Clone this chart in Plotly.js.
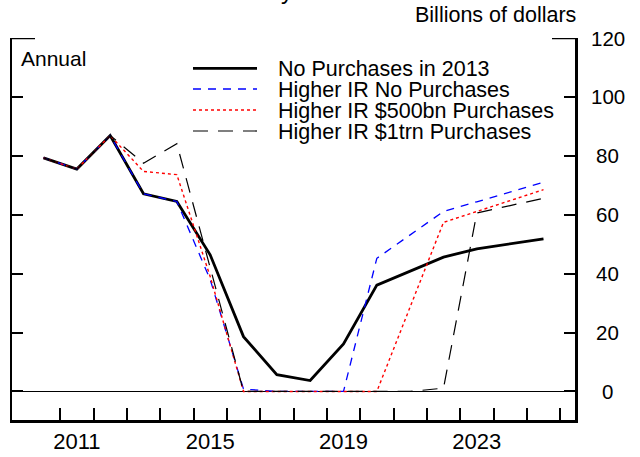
<!DOCTYPE html>
<html><head><meta charset="utf-8">
<script src="https://cdn.plot.ly/plotly-3.0.1.min.js"></script>
<style>html,body{margin:0;padding:0;background:#fff}#chart{width:640px;height:457px}</style>
</head><body><div id="chart"></div>
<script>
// ---- data ----
const years = [2010,2011,2012,2013,2014,2015,2016,2017,2018,2019,2020,2021,2022,2023,2024,2025];
const seriesNames = ['No Purchases in 2013','Higher IR No Purchases','Higher IR $500bn Purchases','Higher IR $1trn Purchases'];
const noPurchases   = [79.3,75.5,86.9,67.1,64.5,46.4,18.6,5.7,3.7,16.1,36.1,40.9,45.6,48.4,50.1,51.8];
const higherIRNo    = [79.3,75.5,86.9,67.1,64.5,38.0,0.8,0,0,0,45.2,53.2,61.1,64.4,67.7,71.0];
const higherIR500bn = [79.3,75.5,86.9,74.7,73.6,39.0,0,0,0,0,0,28.7,57.4,61.1,64.9,68.5];
const higherIR1trn  = [79.3,75.5,86.9,77.5,84.1,42.0,0,0,0,0,0,0,1.1,60.6,63.1,65.6];
const xLabelYears = [2011,2015,2019,2023];
const yTicks = [0,20,40,60,80,100,120];
const titleText = 'Remittances to Treasury';
const unitText = 'Billions of dollars';
const freqText = 'Annual';

// ---- styles ----
const F = 'Liberation Sans, Arial, Helvetica, sans-serif';
const styles = [
  {color:'#000000', width:2.8, dash:'solid'},
  {color:'#0000ff', width:1.3, dash:'8px,7px'},
  {color:'#ff0000', width:1.4, dash:'3px,3px'},
  {color:'#000000', width:1.2, dash:'15px,10px'}
];
const seriesData = [noPurchases, higherIRNo, higherIR500bn, higherIR1trn];

const L = 12, R = 575, T = 38, B = 420;
const px2x = p => (p - L) / (R - L);
const px2y = p => (B - p) / (B - T);

const traces = seriesData.map((vals, i) => ({
  x: years, y: vals, type: 'scatter', mode: 'lines', name: seriesNames[i],
  line: {color: styles[i].color, width: styles[i].width, dash: styles[i].dash},
  showlegend: false, hoverinfo: 'skip'
}));

const annotations = [];
const shapes = [];
// y tick labels (centered, right side)
yTicks.forEach(v => annotations.push({
  x: px2x(607.5), xref: 'paper', y: v, yref: 'y', xanchor: 'center', yanchor: 'middle',
  text: String(v), showarrow: false, font: {family: F, size: 20.5, color: '#000'}
}));
// legend
const rowY = [68.3, 89, 110, 131];
seriesNames.forEach((n, i) => {
  shapes.push({type: 'line', xref: 'paper', yref: 'paper', x0: px2x(193), x1: px2x(257),
    y0: px2y(rowY[i]), y1: px2y(rowY[i]),
    line: {color: styles[i].color, width: styles[i].width, dash: styles[i].dash}});
  annotations.push({x: px2x(276), xref: 'paper', y: px2y(rowY[i] + 1), yref: 'paper',
    xanchor: 'left', yanchor: 'middle', text: n, showarrow: false,
    font: {family: F, size: 21.5, color: '#000'}});
});
annotations.push({x: px2x(19), xref: 'paper', y: px2y(58.5), yref: 'paper', xanchor: 'left', yanchor: 'middle',
  text: freqText, showarrow: false, font: {family: F, size: 21, color: '#000'}});
annotations.push({x: px2x(578), xref: 'paper', y: px2y(15), yref: 'paper', xanchor: 'right', yanchor: 'middle',
  text: unitText, showarrow: false, font: {family: F, size: 21.5, color: '#000'}});
annotations.push({x: px2x(31), xref: 'paper', y: px2y(-9.5), yref: 'paper', xanchor: 'left', yanchor: 'middle',
  text: titleText, showarrow: false, font: {family: F, size: 24, color: '#000'}});
// long top ticks at 120
shapes.push({type: 'line', xref: 'paper', yref: 'y', x0: 0, x1: px2x(35), y0: 120, y1: 120, line: {color: '#000', width: 2.5}});
shapes.push({type: 'line', xref: 'paper', yref: 'y', x0: px2x(552), x1: 1, y0: 120, y1: 120, line: {color: '#000', width: 2.5}});

const layout = {
  width: 640, height: 457,
  margin: {l: L, r: 640 - R, t: T, b: 457 - B, pad: 0},
  paper_bgcolor: '#fff', plot_bgcolor: '#fff',
  showlegend: false,
  font: {family: F, size: 20, color: '#000'},
  xaxis: {
    range: [2009.055, 2025.945], showline: true, linewidth: 2.5, linecolor: '#000', mirror: false,
    showgrid: false, zeroline: false, ticks: '', tickmode: 'array',
    tickvals: xLabelYears, ticktext: xLabelYears.map(String),
    tickfont: {family: F, size: 22, color: '#000'}, ticklabelstandoff: 0,
    minor: {tickmode: 'array', tickvals: years.map(y => y + 0.5), ticks: 'inside', ticklen: 12,
      tickwidth: 2, tickcolor: '#000', showgrid: false}
  },
  yaxis: {
    range: [-9.7, 120], side: 'right', showline: true, linewidth: 2.5, linecolor: '#000', mirror: 'ticks',
    ticks: 'inside', ticklen: 11, tickwidth: 2, tickcolor: '#000', tickmode: 'array', tickvals: yTicks,
    showticklabels: false, showgrid: false, zeroline: true, zerolinewidth: 1, zerolinecolor: '#000'
  },
  annotations: annotations,
  shapes: shapes
};
Plotly.newPlot('chart', traces, layout, {staticPlot: true, displayModeBar: false});
</script>
</body></html>
